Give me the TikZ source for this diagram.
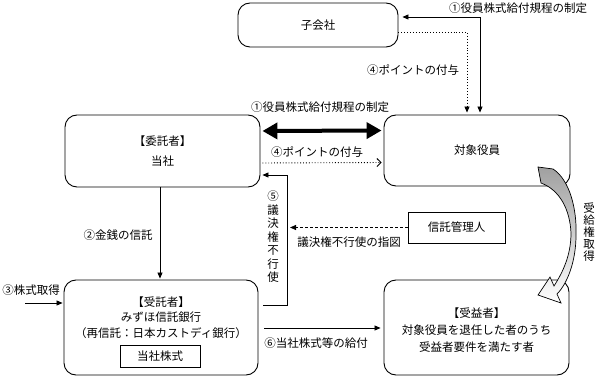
\documentclass[tikz,border=0pt]{standalone}
\usepackage{fontspec}
\setmainfont{Noto Sans CJK JP}
\usetikzlibrary{positioning,calc}
\usetikzlibrary{arrows.meta}
\definecolor{ArcGray}{RGB}{160,160,160}
\tikzset{
  org/.style={draw=black,line width=0.9pt,rounded corners=12pt,fill=white,inner sep=0pt,align=center},
  plain/.style={draw=black,line width=0.8pt,fill=white,inner sep=0pt,align=center},
  tx/.style={inner sep=0pt,align=center},
  link/.style={draw=black,line width=0.8pt,-{Triangle[length=6pt,width=5pt]}},
  both/.style={draw=black,line width=0.8pt,{Triangle[length=6pt,width=5pt]}-{Triangle[length=6pt,width=5pt]}},
  dots/.style={draw=black,line width=0.9pt,dotted},
  fat/.style={draw=black,line width=4pt,{Triangle[length=15pt,width=16pt]}-{Triangle[length=15pt,width=16pt]}},
}

\begin{document}
\begin{tikzpicture}[x=1pt,y=-1pt,font=\fontsize{11.5}{14}\selectfont]
\useasboundingbox (0,0) rectangle (595,377);
% boxes
\node[org,minimum width=160pt,minimum height=44pt] (ko) at (318,25) {子会社};
\node[org,minimum width=195pt,minimum height=72pt] (itaku) at (162.5,151) {【委託者】\\[6pt]当社};
\node[org,minimum width=186pt,minimum height=71pt] (taisho) at (477,150.5) {対象役員};
\node[plain,minimum width=97pt,minimum height=31pt] (kanri) at (456.5,227.5) {信託管理人};
\node[org,minimum width=194pt,minimum height=95pt] (juta) at (161,327.5) {};
\node[tx] (jutatx) at (161,317.5) {【受託者】\\[1.5pt]みずほ信託銀行\\[1.5pt]（再信託：日本カストディ銀行）};
\node[plain,minimum width=80pt,minimum height=22pt] (kabu) at (160,356) {当社株式};
\node[org,minimum width=185pt,minimum height=95pt] (jueki) at (476.5,327.5) {};
\node[tx] (juekitx) at (476.5,330) {【受益者】\\[3pt]対象役員を退任した者のうち\\[3pt]受益者要件を満たす者};

% connectors
\coordinate (c1) at (480,17);
\coordinate (c4) at (467,32);
\draw[both,shorten <=4pt,shorten >=2pt] (ko.east |- c1) -- (c1) -- (c1 |- taisho.north);
\draw[dots] (ko.east |- c4) -- (c4) -- ([yshift=6pt]c4 |- taisho.north);
\draw[link,shorten >=2pt] ([yshift=8pt]c4 |- taisho.north) -- (c4 |- taisho.north);
\node[tx] (l1a) at (518,8) {①役員株式給付規程の制定};
\node[tx] (l4a) at (413,70) {④ポイントの付与};

\draw[fat,shorten <=2pt,shorten >=2pt] ([yshift=20pt]itaku.east) -- ([yshift=20pt]taisho.west);
\node[tx] (l1b) at (320,107) {①役員株式給付規程の制定};
\draw[dots,-{Straight Barb[length=4pt,width=8pt]},shorten <=2pt,shorten >=2pt] ([yshift=-12pt]itaku.east) -- ([yshift=-12pt]taisho.west);
\node[tx] (l4b) at (317,152) {④ポイントの付与};

\coordinate (c5) at (287,305);
\draw[link,shorten <=5pt,shorten >=2pt] (juta.east |- c5) -- (c5) -- (c5 |- 0,175) -- (itaku.east |- 0,175);
\node[tx,font=\fontsize{11.5}{13.5}\selectfont] (l5) at (273,237) {⑤\\議\\決\\権\\不\\行\\使};

\coordinate (c6) at (290,227.5);
\draw[link,dash pattern=on 3pt off 2pt] (kanri.west) -- (c6);
\node[tx] (l6) at (349,242) {議決権不行使の指図};

\draw[link,shorten >=1pt] (itaku.south -| 160,0) -- (juta.north -| 160,0);
\node[tx] (l2) at (118,235) {②金銭の信託};

\coordinate (c3) at (25,303);
\draw[link,shorten >=1pt] (c3) -- (juta.west |- c3);
\node[tx] (l3) at (31,290) {③株式取得};

\coordinate (c7) at (0,328);
\draw[link,shorten <=6pt,shorten >=3pt] (juta.east |- c7) -- (jueki.west |- c7);
\node[tx] (l7) at (316,343) {⑥当社株式等の給付};

% curved arrow
\path[draw=black,line width=0.7pt,top color=ArcGray,bottom color=white]
  (538,167) -- (553,169) .. controls (570,180) and (577,210) .. (576,235)
  .. controls (576,262) and (567,284) .. (557,294) -- (561,303) -- (538,295)
  -- (550,277) -- (554,286) .. controls (563,272) and (571,255) .. (571,233)
  .. controls (570,210) and (560,190) .. (541,183) -- cycle;
\node[tx,font=\fontsize{11.5}{12}\selectfont] (l8) at (589,232) {受\\給\\権\\取\\得};
\end{tikzpicture}
\end{document}
